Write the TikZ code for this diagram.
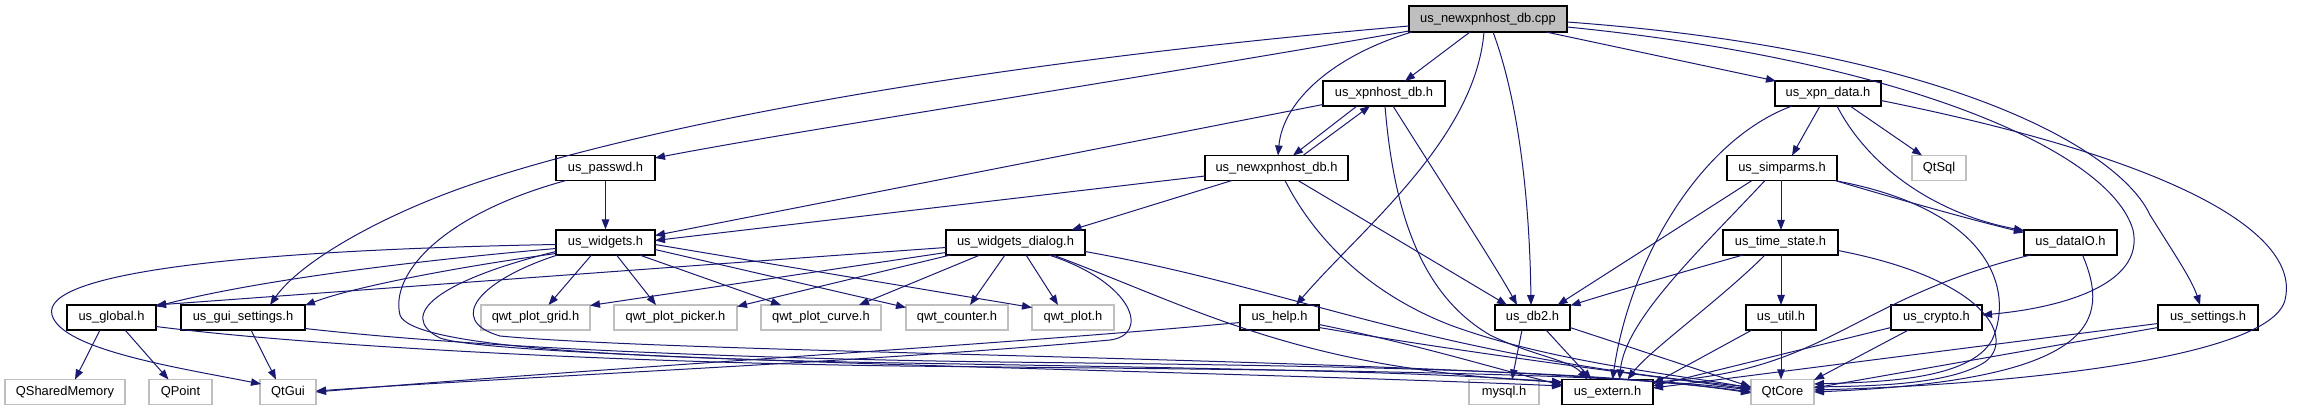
\documentclass[tikz,border=0pt]{standalone}
\usepackage{fontspec}
\setmainfont{Liberation Sans}
\usetikzlibrary{arrows.meta}
\definecolor{edgec}{HTML}{191970}
\definecolor{grayb}{HTML}{BFBFBF}
\tikzset{
 box/.style={draw=black, line width=1.1pt, minimum height=25pt, inner sep=0pt, font=\fontsize{12.9}{15}\selectfont, fill=white},
 ext/.style={box, draw=grayb},
 root/.style={box, fill=grayb, minimum height=26pt},
 e/.style={draw=edgec, line width=1pt, -{Triangle[length=10pt,width=7.5pt]}},
}
\begin{document}
\begin{tikzpicture}[x=1pt,y=-1pt]
\useasboundingbox (0,0) rectangle (2303,411);
% nodes
\node[root, minimum width=158pt] (cpp) at (1488,19) {us\_newxpnhost\_db.cpp};
\node[box, minimum width=122pt] (xph) at (1384,93.5) {us\_xpnhost\_db.h};
\node[box, minimum width=143pt] (nxh) at (1276.5,168) {us\_newxpnhost\_db.h};
\node[box, minimum width=99pt] (pw) at (605.5,168) {us\_passwd.h};
\node[box, minimum width=106pt] (xd) at (1828,93.5) {us\_xpn\_data.h};
\node[box, minimum width=110pt] (sp) at (1782,168) {us\_simparms.h};
\node[ext, minimum width=54pt] (sql) at (1939,168) {QtSql};
\node[box, minimum width=99pt] (wg) at (605.5,242.5) {us\_widgets.h};
\node[box, minimum width=139pt] (wd) at (1015.5,242.5) {us\_widgets\_dialog.h};
\node[box, minimum width=115pt] (ts) at (1780.5,242.5) {us\_time\_state.h};
\node[box, minimum width=93pt] (dio) at (2070.5,242.5) {us\_dataIO.h};
\node[box, minimum width=89pt] (gl) at (111.5,317.5) {us\_global.h};
\node[box, minimum width=124pt] (gs) at (243,317.5) {us\_gui\_settings.h};
\node[ext, minimum width=109pt] (qg) at (535.5,317.5) {qwt\_plot\_grid.h};
\node[ext, minimum width=123pt] (qpk) at (675.5,317.5) {qwt\_plot\_picker.h};
\node[ext, minimum width=120pt] (qc) at (821,317.5) {qwt\_plot\_curve.h};
\node[ext, minimum width=102pt] (qcn) at (957,317.5) {qwt\_counter.h};
\node[ext, minimum width=82pt] (qp) at (1073,317.5) {qwt\_plot.h};
\node[box, minimum width=79pt] (hp) at (1279.5,317.5) {us\_help.h};
\node[box, minimum width=75pt] (db) at (1532.5,317.5) {us\_db2.h};
\node[box, minimum width=70pt] (ut) at (1781,317.5) {us\_util.h};
\node[box, minimum width=91pt] (cr) at (1936.5,317.5) {us\_crypto.h};
\node[box, minimum width=100pt] (st) at (2208,317.5) {us\_settings.h};
\node[ext, minimum width=120pt] (qsm) at (65,392) {QSharedMemory};
\node[ext, minimum width=63pt] (qpt) at (180.5,392) {QPoint};
\node[ext, minimum width=56pt] (gui) at (288,392) {QtGui};
\node[ext, minimum width=70pt] (my) at (1504,392) {mysql.h};
\node[box, minimum width=91pt] (ex) at (1607.5,392) {us\_extern.h};
\node[ext, minimum width=63pt] (core) at (1782.5,392) {QtCore};
% cpp
\draw[e] ([shift={(-18,13)}]cpp.center) -- ([shift={(21,-12.5)}]xph.center);
\draw[e] ([shift={(-76,13)}]cpp.center) .. controls (1335,55) and (1283,100) .. ([shift={(1.5,-12.5)}]nxh.center);
\draw[e] ([shift={(58,13)}]cpp.center) -- ([shift={(-52,-12.5)}]xd.center);
\draw[e] ([shift={(-79,12)}]cpp.center) .. controls (1100,85) and (800,130) .. ([shift={(49.5,-10)}]pw.center);
\draw[e] ([shift={(-79,7)}]cpp.center) .. controls (900,70) and (600,140) .. (470,185) .. controls (380,216) and (300,262) .. ([shift={(27,-12.5)}]gs.center);
\draw[e] ([shift={(-4,13)}]cpp.center) .. controls (1475,140) and (1360,230) .. ([shift={(16.5,-12.5)}]hp.center);
\draw[e] ([shift={(5,13)}]cpp.center) .. controls (1522,110) and (1530,220) .. ([shift={(-1.5,-12.5)}]db.center);
\draw[e] ([shift={(79,8)}]cpp.center) .. controls (1900,60) and (2110,150) .. (2133,230) .. controls (2145,285) and (2060,308) .. ([shift={(45.5,-2.5)}]cr.center);
\draw[e] ([shift={(79,3)}]cpp.center) .. controls (1950,50) and (2120,150) .. (2150,215) .. controls (2175,255) and (2192,280) .. ([shift={(-8,-12.5)}]st.center);
% xpnhost
\draw[e] ([shift={(-27,12.5)}]xph.center) -- ([shift={(16.5,-12.5)}]nxh.center);
\draw[e] ([shift={(26.5,-12.5)}]nxh.center) -- ([shift={(-14,12.5)}]xph.center);
\draw[e] ([shift={(-61,11)}]xph.center) -- ([shift={(49.5,-7)}]wg.center);
\draw[e] ([shift={(9,12.5)}]xph.center) .. controls (1430,165) and (1495,265) .. ([shift={(-15.5,-12.5)}]db.center);
\draw[e] ([shift={(1,12.5)}]xph.center) .. controls (1395,230) and (1430,300) .. (1490,335) .. controls (1530,355) and (1570,360) .. ([shift={(-20,-12.5)}]ex.center);
% newxpnhost
\draw[e] ([shift={(-71.5,8)}]nxh.center) -- ([shift={(49.5,-2)}]wg.center);
\draw[e] ([shift={(-44.5,12.5)}]nxh.center) -- ([shift={(56,-12.5)}]wd.center);
\draw[e] ([shift={(21.5,12.5)}]nxh.center) -- ([shift={(-25.5,-12.5)}]db.center);
\draw[e] ([shift={(8.5,12.5)}]nxh.center) .. controls (1310,230) and (1360,290) .. (1450,325) .. controls (1550,362) and (1680,375) .. ([shift={(-31.5,-4)}]core.center);
% passwd
\draw[e] (pw.south) -- (wg.north);
\draw[e] ([shift={(-39.5,12.5)}]pw.center) .. controls (440,215) and (390,275) .. (400,315) .. controls (410,345) and (600,358) .. (900,363) .. controls (1200,368) and (1450,372) .. ([shift={(-45.5,-9)}]ex.center);
% widgets
\draw[e] ([shift={(-49.5,6)}]wg.center) .. controls (400,262) and (250,282) .. ([shift={(44.5,-11)}]gl.center);
\draw[e] ([shift={(-49.5,11)}]wg.center) .. controls (450,268) and (350,288) .. ([shift={(62,-12)}]gs.center);
\draw[e] ([shift={(-14,12.5)}]wg.center) -- ([shift={(13,-12.5)}]qg.center);
\draw[e] ([shift={(11,12.5)}]wg.center) -- ([shift={(-19.5,-12.5)}]qpk.center);
\draw[e] ([shift={(34,12.5)}]wg.center) -- ([shift={(-40,-12.5)}]qc.center);
\draw[e] ([shift={(49.5,7)}]wg.center) -- ([shift={(-51,-10)}]qcn.center);
\draw[e] ([shift={(49.5,2)}]wg.center) -- ([shift={(-41,-10)}]qp.center);
\draw[e] ([shift={(-49.5,2)}]wg.center) .. controls (250,250) and (40,272) .. (52,315) .. controls (62,350) and (180,368) .. ([shift={(-27,-8)}]gui.center);
\draw[e] ([shift={(-49.5,9)}]wg.center) .. controls (440,280) and (395,315) .. (440,338) .. controls (500,360) and (1200,370) .. ([shift={(-45.5,-6)}]ex.center);
\draw[e] ([shift={(-48,12.5)}]wg.center) .. controls (480,280) and (445,320) .. (500,336) .. controls (700,355) and (1500,358) .. ([shift={(-31.5,0)}]core.center);
% widgets dialog
\draw[e] ([shift={(-69.5,5)}]wd.center) .. controls (700,265) and (350,291) .. ([shift={(44.5,-12.5)}]gl.center);
\draw[e] ([shift={(-69.5,10)}]wd.center) -- ([shift={(54.5,-12)}]qg.center);
\draw[e] ([shift={(-65,12.5)}]wd.center) -- ([shift={(61.5,-11)}]qpk.center);
\draw[e] ([shift={(-35.5,12.5)}]wd.center) -- ([shift={(38,-12.5)}]qc.center);
\draw[e] ([shift={(-10.5,12.5)}]wd.center) -- ([shift={(13,-12.5)}]qcn.center);
\draw[e] ([shift={(10.5,12.5)}]wd.center) -- ([shift={(-15,-12.5)}]qp.center);
\draw[e] ([shift={(33.5,12.5)}]wd.center) .. controls (1135,283) and (1150,335) .. (1110,340) .. controls (900,360) and (500,378) .. ([shift={(28,-1)}]gui.center);
\draw[e] ([shift={(37.5,12.5)}]wd.center) .. controls (1200,310) and (1300,370) .. ([shift={(-45.5,-10)}]ex.center);
\draw[e] ([shift={(69.5,9)}]wd.center) .. controls (1300,290) and (1420,355) .. ([shift={(-31.5,-5)}]core.center);
% global, gui settings
\draw[e] ([shift={(-11.5,12.5)}]gl.center) -- ([shift={(10,-12.5)}]qsm.center);
\draw[e] ([shift={(13.5,12.5)}]gl.center) -- ([shift={(-12,-12.5)}]qpt.center);
\draw[e] ([shift={(44.5,9)}]gl.center) .. controls (300,345) and (600,362) .. (900,366) .. controls (1300,370) and (1600,372) .. ([shift={(-31.5,-2)}]core.center);
\draw[e] ([shift={(8,12.5)}]gs.center) -- ([shift={(-12,-12.5)}]gui.center);
\draw[e] ([shift={(62,11)}]gs.center) .. controls (450,345) and (700,358) .. (1000,362) .. controls (1350,366) and (1600,370) .. ([shift={(-31.5,1)}]core.center);
% help
\draw[e] ([shift={(-39.5,5)}]hp.center) .. controls (1000,345) and (600,368) .. ([shift={(28,0)}]gui.center);
\draw[e] ([shift={(39.5,7)}]hp.center) .. controls (1420,345) and (1500,370) .. ([shift={(-45.5,-7)}]ex.center);
\draw[e] ([shift={(39.5,10)}]hp.center) .. controls (1450,350) and (1600,370) .. ([shift={(-31.5,-3)}]core.center);
% db2
\draw[e] ([shift={(-10.5,12.5)}]db.center) -- ([shift={(8,-12.5)}]my.center);
\draw[e] ([shift={(13.5,12.5)}]db.center) -- ([shift={(-16,-12.5)}]ex.center);
\draw[e] ([shift={(37.5,10)}]db.center) -- ([shift={(-31.5,-5)}]core.center);
% simparms
\draw[e] ([shift={(-1,12.5)}]sp.center) -- ([shift={(0.5,-12.5)}]ts.center);
\draw[e] ([shift={(-30,12.5)}]sp.center) -- ([shift={(25,-12.5)}]db.center);
\draw[e] ([shift={(-17,12.5)}]sp.center) .. controls (1700,250) and (1625,320) .. ([shift={(12,-12.5)}]ex.center);
\draw[e] ([shift={(53,12.5)}]sp.center) .. controls (1900,200) and (1980,222) .. ([shift={(-46.5,-10)}]dio.center);
\draw[e] ([shift={(55,13)}]sp.center) .. controls (1990,210) and (2015,290) .. (1992,340) .. controls (1970,380) and (1880,382) .. ([shift={(31.5,-8)}]core.center);
% xpn data
\draw[e] ([shift={(-8,12.5)}]xd.center) -- ([shift={(10,-12.5)}]sp.center);
\draw[e] ([shift={(22,12.5)}]xd.center) -- ([shift={(-17,-12.5)}]sql.center);
\draw[e] ([shift={(9,12.5)}]xd.center) .. controls (1870,170) and (1940,215) .. ([shift={(-46.5,-12)}]dio.center);
\draw[e] ([shift={(-36,12.5)}]xd.center) .. controls (1700,140) and (1630,260) .. ([shift={(5,-12.5)}]ex.center);
\draw[e] ([shift={(53,7)}]xd.center) .. controls (2200,165) and (2300,240) .. (2285,300) .. controls (2270,360) and (2000,385) .. ([shift={(31.5,-2)}]core.center);
% time state
\draw[e] ([shift={(-37.5,12.5)}]ts.center) .. controls (1690,270) and (1620,290) .. ([shift={(38,-12)}]db.center);
\draw[e] ([shift={(0.5,12.5)}]ts.center) -- ([shift={(0,-12.5)}]ut.center);
\draw[e] ([shift={(-15.5,12.5)}]ts.center) .. controls (1720,300) and (1650,350) .. ([shift={(20,-12.5)}]ex.center);
\draw[e] ([shift={(57.5,8)}]ts.center) .. controls (1990,280) and (2015,340) .. (1985,362) .. controls (1950,385) and (1870,386) .. ([shift={(31.5,-5)}]core.center);
% dataIO
\draw[e] ([shift={(-40,12.5)}]dio.center) .. controls (1850,300) and (1830,370) .. ([shift={(45.5,-10)}]ex.center);
\draw[e] ([shift={(12,12.5)}]dio.center) .. controls (2110,320) and (2100,380) .. ([shift={(31.5,0)}]core.center);
% util, crypto, settings
\draw[e] ([shift={(-29,12.5)}]ut.center) -- ([shift={(45.5,-8)}]ex.center);
\draw[e] ([shift={(0,12.5)}]ut.center) -- ([shift={(-1.5,-12.5)}]core.center);
\draw[e] ([shift={(-45.5,10)}]cr.center) -- ([shift={(45.5,-6)}]ex.center);
\draw[e] ([shift={(-28,12.5)}]cr.center) -- ([shift={(31.5,-12)}]core.center);
\draw[e] ([shift={(-50,6)}]st.center) -- ([shift={(45.5,-4)}]ex.center);
\draw[e] ([shift={(-50,10)}]st.center) -- ([shift={(31.5,-4)}]core.center);
\end{tikzpicture}
\end{document}
